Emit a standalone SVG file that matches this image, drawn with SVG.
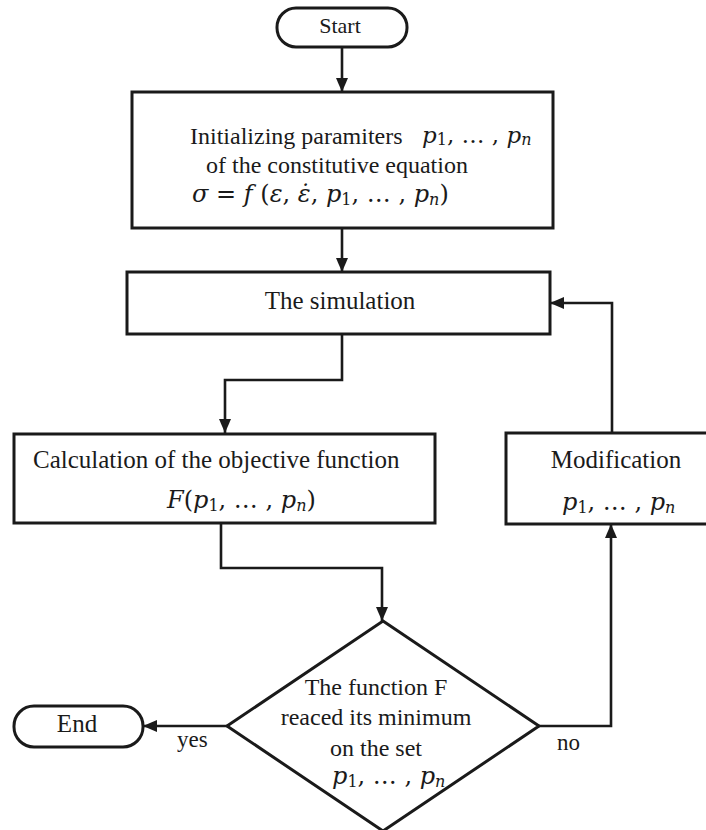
<svg xmlns="http://www.w3.org/2000/svg" width="706" height="830" viewBox="0 0 706 830">
<style>
.box{fill:#fff;stroke:#1a1a1a;stroke-width:3}
.ln{fill:none;stroke:#1a1a1a;stroke-width:2.6;stroke-linejoin:miter}
.t{font-family:'Liberation Serif',serif;font-size:25px;fill:#1a1a1a}
.m{font-family:'DejaVu Serif',serif;font-size:24px;fill:#1a1a1a}
.i{font-style:italic}
.s{font-size:16px}
</style>
<defs>
<marker id="ah" markerUnits="userSpaceOnUse" markerWidth="14" markerHeight="12" viewBox="0 0 14 12" refX="14" refY="6" orient="auto">
<path d="M0,0 L14,6 L0,12 Z" fill="#1a1a1a"/>
</marker>
</defs>
<rect width="706" height="830" fill="#fff"/>
<g id="connectors">
<path class="ln" d="M342,47 V92" marker-end="url(#ah)"/>
<path class="ln" d="M342,228 V272" marker-end="url(#ah)"/>
<path class="ln" d="M342,334 V380 H225 V433" marker-end="url(#ah)"/>
<path class="ln" d="M221,523 V568 H382 V621" marker-end="url(#ah)"/>
<path class="ln" d="M227,726 H143" marker-end="url(#ah)"/>
<path class="ln" d="M539,726 H611 V524" marker-end="url(#ah)"/>
<path class="ln" d="M612,433 V303 H550" marker-end="url(#ah)"/>
<text class="t" x="177" y="747" style="font-size:23px">yes</text>
<text class="t" x="557" y="750" style="font-size:23px">no</text>
</g>
<g id="start">
<rect class="box" x="277" y="8" width="130" height="39" rx="19"/>
<text class="t" x="340" y="33" text-anchor="middle" style="font-size:22px">Start</text>
</g>
<g id="init">
<rect class="box" x="132" y="92" width="421" height="136"/>
<text class="t" x="190" y="144" style="font-size:24px">Initializing paramiters</text>
<text class="m" x="422" y="143" style="font-size:23px"><tspan class="i">p</tspan><tspan class="s" dy="2">1</tspan><tspan dy="-2">, … , </tspan><tspan class="i">p</tspan><tspan class="i s" dy="2">n</tspan></text>
<text class="t" x="206" y="173" style="font-size:24px">of the constitutive equation</text>
<text class="m" x="192" y="202"><tspan class="i">σ</tspan> = <tspan class="i">f</tspan> (<tspan class="i">ε</tspan>, <tspan class="i">ε̇</tspan>, <tspan class="i">p</tspan><tspan class="s" dy="3">1</tspan><tspan dy="-3">, … , </tspan><tspan class="i">p</tspan><tspan class="i s" dy="3">n</tspan><tspan dy="-3">)</tspan></text>
</g>
<g id="simulation">
<rect class="box" x="127" y="272" width="423" height="62"/>
<text class="t" x="340" y="309" text-anchor="middle">The simulation</text>
</g>
<g id="calc">
<rect class="box" x="14" y="434" width="421" height="89"/>
<text class="t" x="33" y="468">Calculation of the objective function</text>
<text class="m" x="167" y="508"><tspan class="i">F</tspan>(<tspan class="i">p</tspan><tspan class="s" dy="3">1</tspan><tspan dy="-3">, … , </tspan><tspan class="i">p</tspan><tspan class="i s" dy="3">n</tspan><tspan dy="-3">)</tspan></text>
</g>
<g id="modification">
<rect class="box" x="506" y="433" width="220" height="91"/>
<text class="t" x="616" y="468" text-anchor="middle">Modification</text>
<text class="m" x="562" y="510"><tspan class="i">p</tspan><tspan class="s" dy="3">1</tspan><tspan dy="-3">, … , </tspan><tspan class="i">p</tspan><tspan class="i s" dy="3">n</tspan></text>
</g>
<g id="decision">
<path class="box" d="M383,621 L539,726 L383,831 L227,726 Z"/>
<text class="t" x="376" y="695" text-anchor="middle" style="font-size:24px">The function F</text>
<text class="t" x="376" y="725" text-anchor="middle" style="font-size:24px">reaced its minimum</text>
<text class="t" x="376" y="756" text-anchor="middle" style="font-size:24px">on the set</text>
<text class="m" x="332" y="784"><tspan class="i">p</tspan><tspan class="s" dy="3">1</tspan><tspan dy="-3">, … , </tspan><tspan class="i">p</tspan><tspan class="i s" dy="3">n</tspan></text>
</g>
<g id="end">
<rect class="box" x="14" y="706" width="129" height="41" rx="20"/>
<text class="t" x="77" y="732" text-anchor="middle">End</text>
</g>
</svg>
